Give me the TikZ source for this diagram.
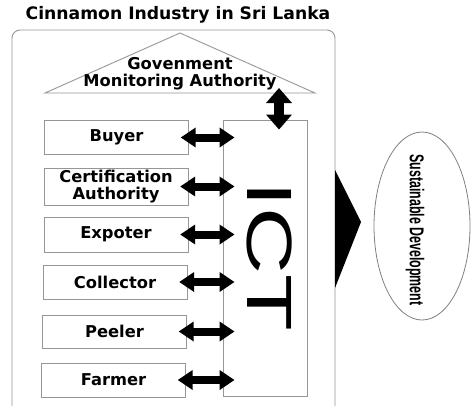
\documentclass[tikz,border=0pt]{standalone}
\usepackage{fontspec}
\setmainfont{DejaVu Sans}
\newfontfamily\narrowfont{Liberation Sans}
\usetikzlibrary{arrows.meta,positioning,shapes.geometric}
\definecolor{linegray}{RGB}{150,150,150}
\tikzset{%
	actor/.style    = {draw=linegray, rectangle, minimum width=144pt, minimum height=34pt, inner sep=0pt, text centered, align=center, font=\fontsize{16.3}{17}\selectfont\bfseries},
	frameline/.style= {draw=linegray, line width=0.9pt},
	dblarrow/.style = {line width=8pt, {Triangle[length=15pt,width=19pt]}-{Triangle[length=15pt,width=19pt]}},
	vertarrow/.style= {line width=10pt, {Triangle[length=15pt,width=25pt]}-{Triangle[length=15pt,width=25pt]}},
}
\newcommand{\ictlabel}{\scalebox{1.45}[1]{ICT}}

\begin{document}
\begin{tikzpicture}[x=1pt,y=-1pt]
	\useasboundingbox (0,0) rectangle (473,405);
	\fill[white] (0,0) rectangle (473,405);
	
	\node[font=\fontsize{17.2}{17}\selectfont\bfseries] (title) at (178,15) {Cinnamon Industry in Sri Lanka};
	\draw[frameline,rounded corners=8pt] (12,406) -- (12,30) -- (335,30) -- (335,406);
	
	\draw[frameline] (45,93) -- (180,33) -- (315,93) -- cycle;
	\node[align=center,font=\fontsize{16.3}{17}\selectfont\bfseries] (gov) at (180,73.5) {Govenment\\Monitoring Authority};
	\coordinate (govbase) at (279,93);
	
	\node[frameline,minimum width=84pt,minimum height=276pt] (ictbox) at (265,258) {};
	\node[rotate=-90,font=\fontsize{64}{64}\narrowfont] (ict) at (270,256.5) {\ictlabel};
	
	\node[actor] (buyer) at (116.5,137.5) {Buyer};
	\node[actor,minimum height=37pt] (cert) at (116,186.5) {Certification\\Authority};
	\node[actor,minimum height=35pt] (expoter) at (116,234.5) {Expoter};
	\node[actor] (collector) at (115,282) {Collector};
	\node[actor,minimum height=33pt] (peeler) at (114.5,331.5) {Peeler};
	\node[actor] (farmer) at (113.5,380) {Farmer};
	
	\foreach \who in {buyer,cert,expoter,collector,peeler,farmer} \draw[dblarrow,shorten <=-8pt,shorten >=-12pt] (\who.east) -- (\who.east -| ictbox.west);
	
	\draw[vertarrow,shorten <=-5pt,shorten >=-10pt] (govbase) -- (govbase |- ictbox.north);
	
	\fill[black] (335,170) -- (361,222) -- (335,288) -- cycle;
	
	\node[draw=gray,line width=0.8pt,ellipse,minimum width=96pt,minimum height=188pt] (goal) at (422,226) {};
	\node[rotate=-90,font=\fontsize{20}{20}\narrowfont\bfseries] (goaltext) at (415,230) {\scalebox{0.62}[1]{Sustainable Development}};
\end{tikzpicture}
\end{document}
